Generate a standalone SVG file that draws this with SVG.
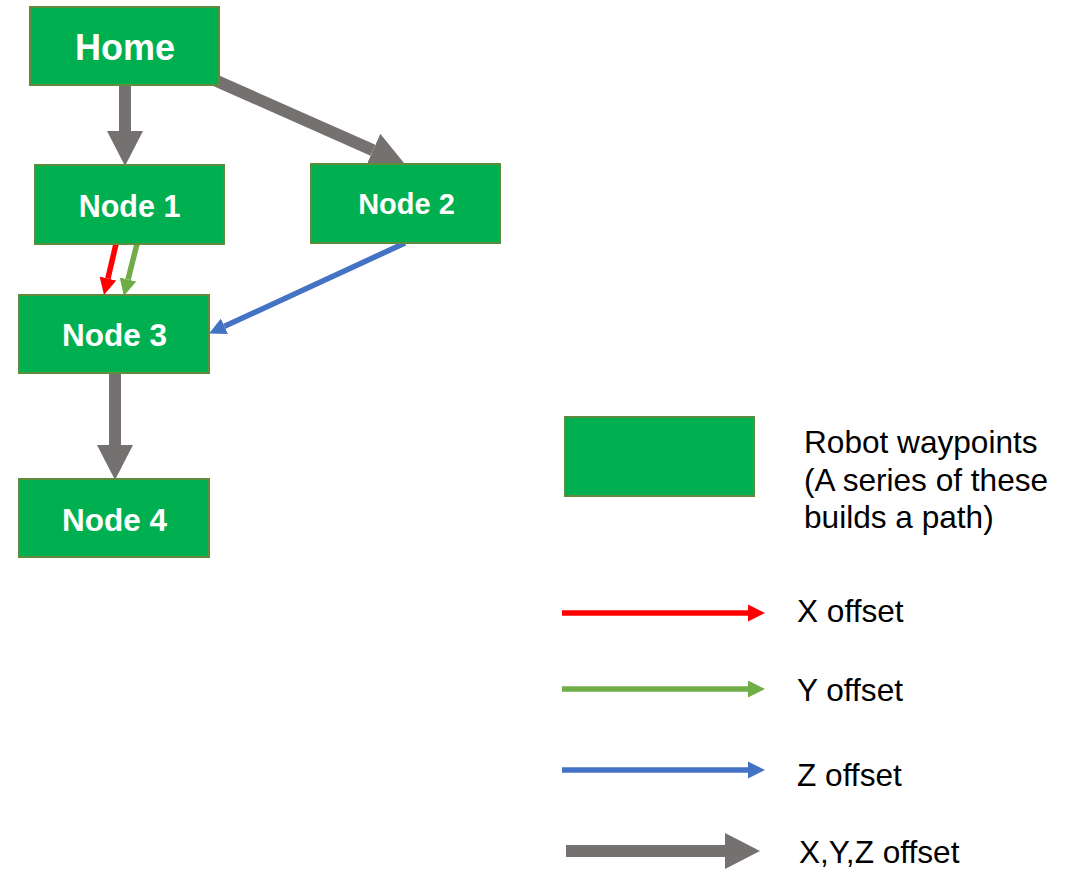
<svg xmlns="http://www.w3.org/2000/svg" width="1074" height="869" viewBox="0 0 1074 869">
<defs>
<style>
.node{fill:#00B050;stroke:#5F8B3C;stroke-width:2}
.nt{font-family:"Liberation Sans",Arial,sans-serif;font-weight:bold;fill:#FFFFFF;text-anchor:middle}
.lt{font-family:"Liberation Sans",Arial,sans-serif;font-size:31.6px;fill:#000000}
.thick{stroke:#767171;stroke-width:12;fill:none}
.thin{stroke-width:5.5;fill:none}
</style>
<marker id="hg" markerUnits="userSpaceOnUse" markerWidth="36" markerHeight="36" refX="0" refY="18" orient="auto" viewBox="0 0 36 36"><path d="M0,0 L35,18 L0,36 z" fill="#767171"/></marker>
<marker id="hr" markerUnits="userSpaceOnUse" markerWidth="18" markerHeight="18" refX="0" refY="9" orient="auto" viewBox="0 0 18 18"><path d="M0,0.5 L17,9 L0,17.5 z" fill="#FF0000"/></marker>
<marker id="hgr" markerUnits="userSpaceOnUse" markerWidth="18" markerHeight="18" refX="0" refY="9" orient="auto" viewBox="0 0 18 18"><path d="M0,0.5 L17,9 L0,17.5 z" fill="#70AD47"/></marker>
<marker id="hb" markerUnits="userSpaceOnUse" markerWidth="18" markerHeight="18" refX="0" refY="9" orient="auto" viewBox="0 0 18 18"><path d="M0,0.5 L17,9 L0,17.5 z" fill="#4472C4"/></marker>
</defs>
<g id="connectors">
<line class="thick" x1="125" y1="80" x2="125" y2="131" marker-end="url(#hg)"/>
<line class="thick" x1="210" y1="78" x2="373" y2="150.2" marker-end="url(#hg)"/>
<line class="thick" x1="115" y1="370" x2="115" y2="445" marker-end="url(#hg)"/>
<line class="thin" stroke="#FF0000" x1="116" y1="244" x2="107.9" y2="278.5" marker-end="url(#hr)"/>
<line class="thin" stroke="#70AD47" x1="137" y1="244" x2="128" y2="279.5" marker-end="url(#hgr)"/>
<line class="thin" stroke="#4472C4" x1="405" y1="243" x2="224.5" y2="326.3" marker-end="url(#hb)"/>
</g>
<g id="home"><rect class="node" x="30" y="7" width="189" height="78"/><text class="nt" x="125" y="60" font-size="36">Home</text></g>
<g id="node1"><rect class="node" x="35" y="165" width="189" height="79"/><text class="nt" x="129.5" y="217" font-size="30.5">Node 1</text></g>
<g id="node2"><rect class="node" x="311" y="164" width="189" height="79"/><text class="nt" x="406.5" y="214" font-size="29">Node 2</text></g>
<g id="node3"><rect class="node" x="19" y="295" width="190" height="78"/><text class="nt" x="114.5" y="346" font-size="31.5">Node 3</text></g>
<g id="node4"><rect class="node" x="19" y="479" width="190" height="78"/><text class="nt" x="114.5" y="531" font-size="31.5">Node 4</text></g>
<g id="legend">
<rect class="node" x="565" y="417" width="189" height="79"/>
<text class="lt" x="804" y="453">Robot waypoints</text>
<text class="lt" x="804" y="491">(A series of these</text>
<text class="lt" x="804" y="528">builds a path)</text>
<line class="thin" stroke="#FF0000" x1="562" y1="613" x2="748" y2="613" marker-end="url(#hr)"/>
<text class="lt" x="797" y="622">X offset</text>
<line class="thin" stroke="#70AD47" x1="562" y1="689" x2="748" y2="689" marker-end="url(#hgr)"/>
<text class="lt" x="797" y="701">Y offset</text>
<line class="thin" stroke="#4472C4" x1="562" y1="770" x2="748" y2="770" marker-end="url(#hb)"/>
<text class="lt" x="797" y="786">Z offset</text>
<line class="thick" x1="566" y1="851" x2="725" y2="851" marker-end="url(#hg)"/>
<text class="lt" x="799" y="863">X,Y,Z offset</text>
</g>
</svg>
